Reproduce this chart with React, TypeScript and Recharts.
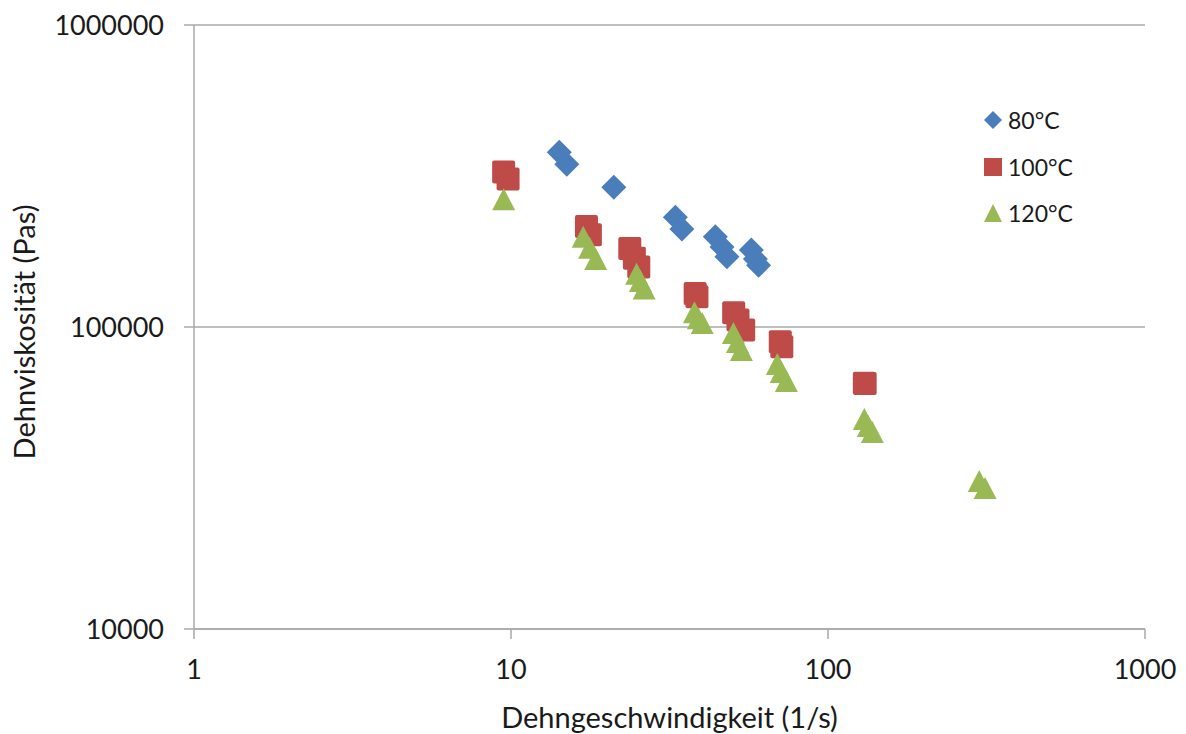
import { CartesianGrid, Legend, Scatter, ScatterChart, XAxis, YAxis } from "recharts";

// Extensional viscosity vs. strain rate, three melt temperatures
const temp80Rate = [14.2, 15.0, 21.1, 33.0, 34.6, 44.1, 46.3, 48.0, 57.3, 59.0, 60.4];
const temp80Visc = [379000, 346000, 290000, 231000, 211000, 199000, 184000, 171000, 180000, 168000, 160000];

const temp100Rate = [9.48, 9.79, 17.3, 17.8, 23.7, 24.5, 25.3, 38.1, 38.6, 50.4, 52.0, 54.2, 70.7, 71.5, 130.2, 131];
const temp100Visc = [326000, 309000, 215000, 202000, 182000, 169000, 158000, 129000, 126000, 111500, 105500, 97700, 89400, 86000, 65100, 65000];

const temp120Rate = [9.48, 16.9, 17.7, 18.5, 24.9, 25.6, 26.3, 37.9, 39.0, 40.1, 50.3, 51.8, 53.3, 69.2, 71.2, 73.9, 130.2, 134, 138, 300, 313];
const temp120Visc = [265000, 199000, 183000, 168000, 150000, 142000, 134000, 112000, 107000, 103000, 95500, 89200, 83900, 75400, 70900, 66200, 49600, 47000, 44900, 30900, 29300];

const xTicks = [1, 10, 100, 1000];
const yTicks = [10000, 100000, 1000000];

const seriesNames = ["80°C", "100°C", "120°C"];
const BLUE = "#4A7EBB";
const RED = "#BE4B48";
const GREEN = "#98B954";
const AXIS = "#A8A8A8";
const FONT = "Lato, 'Open Sans', sans-serif";

const toPoints = (xs: number[], ys: number[]) => xs.map((x, i) => ({ x, y: ys[i] }));

const data80 = toPoints(temp80Rate, temp80Visc);
const data100 = toPoints(temp100Rate, temp100Visc);
const data120 = toPoints(temp120Rate, temp120Visc);

type ShapeProps = { cx?: number; cy?: number };

function DiamondMark({ cx = 0, cy = 0 }: ShapeProps) {
  const r = 12.5;
  return (
    <polygon
      points={`${cx},${cy - r} ${cx + r},${cy} ${cx},${cy + r} ${cx - r},${cy}`}
      fill={BLUE}
    />
  );
}

function SquareMark({ cx = 0, cy = 0 }: ShapeProps) {
  const s = 23;
  return <rect x={cx - s / 2} y={cy - s / 2} width={s} height={s} rx={2} fill={RED} />;
}

function TriangleMark({ cx = 0, cy = 0 }: ShapeProps) {
  const w = 23;
  const h = 22;
  return (
    <polygon
      points={`${cx},${cy - h / 2} ${cx + w / 2},${cy + h / 2} ${cx - w / 2},${cy + h / 2}`}
      fill={GREEN}
    />
  );
}

function LegendIcon({ index }: { index: number }) {
  return (
    <svg width={20} height={20} style={{ display: "block" }}>
      {index === 0 && <polygon points="10,1 19,10 10,19 1,10" fill={BLUE} />}
      {index === 1 && <rect x={1} y={1} width={18} height={18} fill={RED} />}
      {index === 2 && <polygon points="10,1 19,19 1,19" fill={GREEN} />}
    </svg>
  );
}

function SeriesLegend() {
  return (
    <div style={{ fontFamily: FONT, fontSize: 23, color: "#1a1a1a" }}>
      {seriesNames.map((name, i) => (
        <div
          key={name}
          style={{ display: "flex", alignItems: "center", height: 46.5, gap: 5 }}
        >
          <LegendIcon index={i} />
          <span>{name}</span>
        </div>
      ))}
    </div>
  );
}

type ViewBox = { x?: number; y?: number; width?: number; height?: number };

function XTitle({ viewBox }: { viewBox?: ViewBox }) {
  const { x = 0, width = 0 } = viewBox ?? {};
  return (
    <text
      x={x + width / 2}
      y={728}
      textAnchor="middle"
      fontFamily={FONT}
      fontSize={29}
      fill="#1a1a1a"
    >
      Dehngeschwindigkeit (1/s)
    </text>
  );
}

function YTitle({ viewBox }: { viewBox?: ViewBox }) {
  const { y = 0, height = 0 } = viewBox ?? {};
  const cy = y + height / 2 + 5;
  return (
    <text
      x={35}
      y={cy}
      transform={`rotate(-90, 35, ${cy})`}
      textAnchor="middle"
      fontFamily={FONT}
      fontSize={29}
      fill="#1a1a1a"
    >
      Dehnviskosität (Pas)
    </text>
  );
}

export default function App() {
  const tickStyle = { fill: "#1a1a1a", fontSize: 27, fontFamily: FONT };

  return (
    <div style={{ position: "absolute", left: 0, top: 0, background: "#fff" }}>
      <ScatterChart
        width={1186}
        height={734}
        margin={{ top: 25, right: 41, bottom: 0, left: 0 }}
      >
        <CartesianGrid vertical={false} stroke={AXIS} strokeWidth={1.5} />
        <XAxis
          type="number"
          dataKey="x"
          scale="log"
          domain={[1, 1000]}
          ticks={xTicks}
          allowDataOverflow
          height={105}
          stroke={AXIS}
          strokeWidth={1.5}
          tickSize={10}
          tickMargin={21}
          tick={tickStyle}
          label={<XTitle />}
        />
        <YAxis
          type="number"
          dataKey="y"
          scale="log"
          domain={[10000, 1000000]}
          ticks={yTicks}
          allowDataOverflow
          width={194}
          stroke={AXIS}
          strokeWidth={1.5}
          tickSize={10}
          tickMargin={20}
          tick={tickStyle}
          label={<YTitle />}
        />
        <Legend
          layout="vertical"
          align="center"
          verticalAlign="middle"
          content={<SeriesLegend />}
          wrapperStyle={{ position: "absolute", left: 983, top: 97, width: 120 }}
        />
        <Scatter name={seriesNames[0]} data={data80} shape={<DiamondMark />} isAnimationActive={false} />
        <Scatter name={seriesNames[1]} data={data100} shape={<SquareMark />} isAnimationActive={false} />
        <Scatter name={seriesNames[2]} data={data120} shape={<TriangleMark />} isAnimationActive={false} />
      </ScatterChart>
    </div>
  );
}
